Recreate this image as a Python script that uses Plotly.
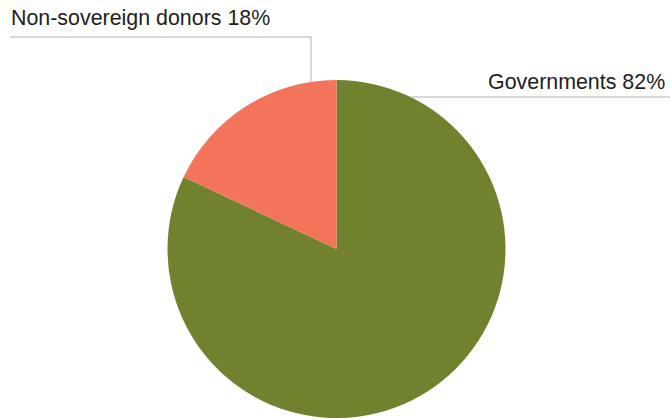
import math
import plotly.graph_objects as go

# Funding sources
labels = ["Governments", "Non-sovereign donors"]
shares = [82, 18]
colors = ["#71822F", "#F4735B"]

W, H = 670, 419
cx, cy, r = 336.5, 249.0, 169.0  # pie centre / radius in pixels (from top-left)


def px(x):
    return x / W


def py(y):
    return 1 - y / H


fig = go.Figure(
    go.Pie(
        labels=labels,
        values=shares,
        sort=False,
        direction="clockwise",
        rotation=0,
        marker=dict(colors=colors, line=dict(width=0)),
        textinfo="none",
        hoverinfo="label+percent",
        showlegend=False,
        domain=dict(x=[px(cx - r), px(cx + r)], y=[py(cy + r), py(cy - r)]),
    )
)

line_style = dict(color="#AEAEAE", width=1)
font = dict(family="Liberation Sans, Arial, sans-serif", size=21.4, color="#1E1E1E")

# Leader for the Non-sovereign slice: vertical drop to the rim, then left
x_ns = 311.0
y_rim = cy - math.sqrt(r * r - (x_ns - cx) ** 2)
y_ns = 37.0
fig.add_shape(type="line", xref="paper", yref="paper",
              x0=px(x_ns), y0=py(y_rim), x1=px(x_ns), y1=py(y_ns), line=line_style)
fig.add_shape(type="line", xref="paper", yref="paper",
              x0=px(x_ns), y0=py(y_ns), x1=px(10), y1=py(y_ns), line=line_style)
fig.add_annotation(xref="paper", yref="paper", x=px(9), y=py(y_ns - 4.5),
                   xanchor="left", yanchor="bottom", showarrow=False,
                   text=f"{labels[1]} {shares[1]}%", font=font)

# Leader for the Governments slice: from the rim out to the right edge
y_gv = 97.0
x_rim = cx + math.sqrt(r * r - (cy - y_gv) ** 2)
fig.add_shape(type="line", xref="paper", yref="paper",
              x0=px(x_rim), y0=py(y_gv), x1=1, y1=py(y_gv), line=line_style)
fig.add_annotation(xref="paper", yref="paper", x=px(667), y=py(y_gv - 1.5),
                   xanchor="right", yanchor="bottom", showarrow=False,
                   text=f"{labels[0]} {shares[0]}%", font=font)

fig.update_layout(
    width=W, height=H,
    margin=dict(l=0, r=0, t=0, b=0),
    paper_bgcolor="white",
    plot_bgcolor="white",
)

fig.write_html("out.html")
